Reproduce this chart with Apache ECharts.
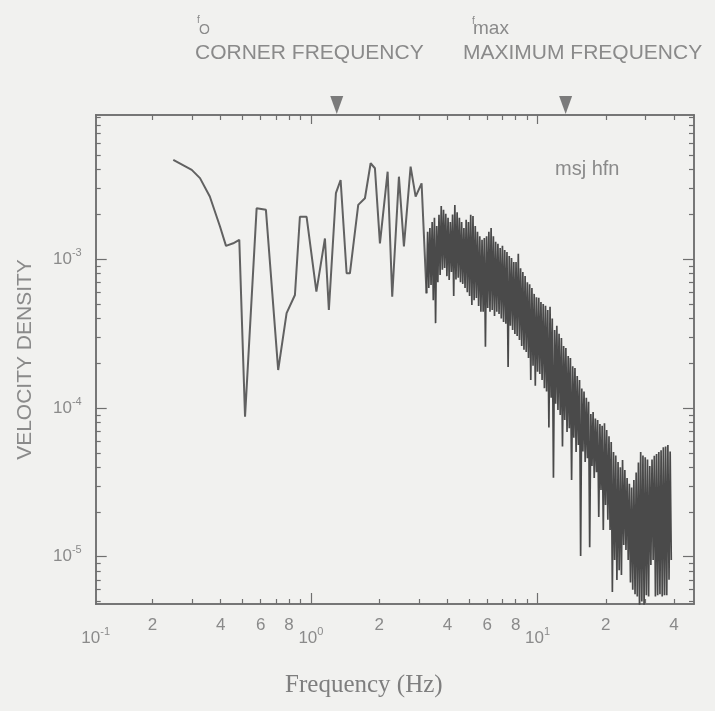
<!DOCTYPE html>
<html>
<head>
<meta charset="utf-8">
<title>Velocity density spectrum</title>
<script src="https://cdn.jsdelivr.net/npm/echarts@6.0.0/dist/echarts.min.js"></script>
<style>
  html, body { margin: 0; padding: 0; background: #f1f1ef; }
  #chart { width: 715px; height: 711px; }
</style>
</head>
<body>
<div id="chart"></div>
<script>
// spectrum: frequency (Hz) and velocity density
var freqHz = [
  // smooth low-frequency part
  0.247, 0.298, 0.324, 0.358, 0.397, 0.422, 0.454, 0.483, 0.512, 0.576,
  0.633, 0.717, 0.781, 0.850, 0.894, 0.957, 1.057, 1.153, 1.20, 1.289,
  1.352, 1.437, 1.486, 1.617, 1.731, 1.834, 1.916, 2.016, 2.180, 2.284,
  2.445, 2.572, 2.753, 2.897, 3.078,
  // dense noisy band
  3.236, 3.273, 3.311, 3.349, 3.388, 3.427, 3.467, 3.507, 3.548, 3.589,
  3.631, 3.673, 3.715, 3.758, 3.802, 3.846, 3.890, 3.935, 3.981, 4.027,
  4.074, 4.121, 4.169, 4.217, 4.266, 4.315, 4.365, 4.416, 4.467, 4.519,
  4.571, 4.624, 4.677, 4.731, 4.786, 4.841, 4.898, 4.955, 5.012, 5.070,
  5.129, 5.188, 5.248, 5.309, 5.370, 5.432, 5.495, 5.559, 5.623, 5.688,
  5.754, 5.821, 5.888, 5.956, 6.026, 6.096, 6.166, 6.237, 6.310, 6.383,
  6.457, 6.532, 6.607, 6.684, 6.761, 6.839, 6.918, 6.998, 7.079, 7.161,
  7.244, 7.328, 7.413, 7.499, 7.586, 7.674, 7.762, 7.852, 7.943, 8.035,
  8.128, 8.222, 8.318, 8.414, 8.511, 8.610, 8.710, 8.811, 8.913, 9.016,
  9.120, 9.226, 9.333, 9.441, 9.550, 9.661, 9.772, 9.885, 10.0, 10.12,
  10.23, 10.35, 10.47, 10.59, 10.72, 10.84, 10.96, 11.09, 11.22, 11.35,
  11.48, 11.61, 11.75, 11.89, 12.02, 12.16, 12.30, 12.44, 12.59, 12.74,
  12.88, 13.03, 13.18, 13.33, 13.49, 13.65, 13.80, 13.96, 14.13, 14.29,
  14.45, 14.62, 14.79, 14.96, 15.14, 15.32, 15.49, 15.67, 15.85, 16.03,
  16.22, 16.41, 16.60, 16.79, 16.98, 17.18, 17.38, 17.58, 17.78, 17.99,
  18.20, 18.41, 18.62, 18.84, 19.05, 19.27, 19.50, 19.73, 19.95, 20.18,
  20.42, 20.66, 20.89, 21.13, 21.38, 21.63, 21.88, 22.13, 22.39, 22.65,
  22.91, 23.18, 23.44, 23.71, 23.99, 24.27, 24.55, 24.83, 25.12, 25.41,
  25.70, 26.00, 26.30, 26.60, 26.92, 27.23, 27.54, 27.86, 28.18, 28.51,
  28.84, 29.17, 29.51, 29.85, 30.20, 30.55, 30.90, 31.26, 31.62, 31.99,
  32.36, 32.74, 33.11, 33.49, 33.88, 34.27, 34.67, 35.07, 35.48, 35.89,
  36.31, 36.73, 37.15, 37.58, 38.02, 38.46, 38.90
];
var velDensity = [
  4.65e-3, 3.99e-3, 3.51e-3, 2.64e-3, 1.66e-3, 1.23e-3, 1.28e-3, 1.35e-3, 8.74e-5, 2.20e-3,
  2.15e-3, 1.80e-4, 4.34e-4, 5.75e-4, 1.93e-3, 1.93e-3, 6.05e-4, 1.38e-3, 4.56e-4, 2.78e-3,
  3.41e-3, 8.05e-4, 8.05e-4, 2.32e-3, 2.57e-3, 4.42e-3, 4.09e-3, 1.28e-3, 3.88e-3, 5.60e-4,
  3.59e-3, 1.22e-3, 4.20e-3, 2.64e-3, 3.24e-3,
  5.9e-4, 1.53e-3, 6.4e-4, 1.62e-3, 6.72e-4, 1.78e-3, 5.3e-4, 1.9e-3, 3.72e-4, 1.67e-3,
  7.0e-4, 1.99e-3, 7.84e-4, 2.28e-3, 8.5e-4, 2.15e-3, 8.74e-4, 2.02e-3, 7.7e-4, 1.9e-3,
  7.26e-4, 1.78e-3, 8.2e-4, 2.0e-3, 5.66e-4, 2.32e-3, 7.3e-4, 2.07e-3, 7.5e-4, 1.90e-3,
  7.0e-4, 1.78e-3, 6.83e-4, 1.62e-3, 6.4e-4, 1.84e-3, 6.0e-4, 1.78e-3, 5.66e-4, 1.99e-3,
  4.93e-4, 1.95e-3, 5.3e-4, 1.67e-3, 5.49e-4, 1.53e-3, 4.85e-4, 1.43e-3, 4.43e-4, 1.35e-3,
  4.43e-4, 1.39e-3, 2.58e-4, 1.43e-3, 4.7e-4, 1.53e-3, 4.43e-4, 1.62e-3, 4.56e-4, 1.43e-3,
  4.16e-4, 1.31e-3, 4.43e-4, 1.27e-3, 4.29e-4, 1.19e-3, 4.0e-4, 1.23e-3, 3.79e-4, 1.155e-3,
  3.68e-4, 1.12e-3, 1.89e-4, 1.05e-3, 3.57e-4, 1.02e-3, 3.35e-4, 9.6e-4, 3.15e-4, 9.6e-4,
  3.05e-4, 1.09e-3, 2.87e-4, 8.7e-4, 2.61e-4, 8.2e-4, 2.46e-4, 7.7e-4, 2.38e-4, 7.0e-4,
  2.17e-4, 6.8e-4, 1.54e-4, 6.4e-4, 1.92e-4, 5.85e-4, 1.41e-4, 5.55e-4, 1.75e-4, 5.5e-4,
  1.69e-4, 5.16e-4, 1.54e-4, 5.0e-4, 1.36e-4, 4.87e-4, 1.29e-4, 4.56e-4, 7.4e-5, 4.8e-4,
  1.17e-4, 4.0e-4, 3.4e-5, 3.35e-4, 1.07e-4, 3.57e-4, 9.7e-5, 3.15e-4, 8.97e-5, 2.95e-4,
  5.5e-5, 2.61e-4, 8.3e-5, 2.53e-4, 6.9e-5, 2.24e-4, 7.3e-5, 2.17e-4, 3.28e-5, 1.91e-4,
  6.3e-5, 1.86e-4, 5.06e-5, 1.64e-4, 5.64e-5, 1.54e-4, 1.01e-5, 1.35e-4, 5.1e-5, 1.29e-4,
  4.34e-5, 1.17e-4, 4.6e-5, 1.10e-4, 1.16e-5, 9.1e-5, 4.07e-5, 9.4e-5, 3.38e-5, 8.5e-5,
  3.7e-5, 8.3e-5, 1.85e-5, 7.8e-5, 2.81e-5, 7.6e-5, 1.51e-5, 7.9e-5, 2.23e-5, 7.1e-5,
  1.77e-5, 6.46e-5, 1.51e-5, 5.9e-5, 5.8e-6, 5.06e-5, 9.5e-6, 4.8e-5, 6.97e-6, 4.33e-5,
  8.1e-6, 4.0e-5, 7.53e-6, 4.47e-5, 1.2e-5, 3.83e-5, 1.11e-5, 3.38e-5, 9.5e-6, 3.1e-5,
  6.7e-6, 2.92e-5, 6.0e-6, 3.28e-5, 5.6e-6, 3.69e-5, 5.4e-6, 4.3e-5, 4.3e-6, 5.06e-5,
  5.0e-6, 4.8e-5, 4.6e-6, 4.66e-5, 5.5e-6, 4.5e-5, 5.4e-6, 4.08e-5, 8.8e-6, 4.5e-5,
  9.5e-6, 4.78e-5, 5.4e-6, 4.9e-5, 5.5e-6, 5.06e-5, 5.6e-6, 5.2e-5, 5.4e-6, 5.44e-5,
  5.5e-6, 5.5e-5, 5.5e-6, 5.64e-5, 7.0e-6, 5.1e-5, 9.5e-6
];
// index where the smooth low-frequency part turns into the dense noisy band
var bandStart = 35;

// corner frequency f0 and maximum frequency fmax (Hz)
var markerFreq = [1.30, 13.3];

// axis ranges and ticks
var xRange = [0.1123, 49];
var yRange = [4.81e-6, 9.33e-3];
var xMajorTicks = [1, 10];
var xMinorTicks = [0.2, 0.3, 0.4, 0.5, 0.6, 0.7, 0.8, 0.9, 2, 3, 4, 5, 6, 7, 8, 9, 20, 30, 40];
var xDecadeLabels = [0.1123, 1, 10];
var xDigitLabels = [0.2, 0.4, 0.6, 0.8, 2, 4, 6, 8, 20, 40];
var yMajorTicks = [1e-5, 1e-4, 1e-3];
var yMinorTicks = [
  5e-6, 6e-6, 7e-6, 8e-6, 9e-6,
  2e-5, 3e-5, 4e-5, 5e-5, 6e-5, 7e-5, 8e-5, 9e-5,
  2e-4, 3e-4, 4e-4, 5e-4, 6e-4, 7e-4, 8e-4, 9e-4,
  2e-3, 3e-3, 4e-3, 5e-3, 6e-3, 7e-3, 8e-3, 9e-3
];

var textGray = '#8a8a8a';
var axisGray = '#6f6f6f';
var sans = "'Liberation Sans', Arial, sans-serif";

var richPow = {
  b: { fontSize: 17, lineHeight: 24, color: textGray, fontFamily: sans },
  s: { fontSize: 11, lineHeight: 11, verticalAlign: 'top', color: textGray, fontFamily: sans }
};

function decadeLabel(v) {
  return '{b|10}{s|' + Math.round(Math.log10(v)) + '}';
}
function digitLabel(v) {
  return String(Math.round(v / Math.pow(10, Math.floor(Math.log10(v) + 1e-9))));
}

function axisDef(position, range, ticks, len, labels, fmt, margin) {
  return {
    type: 'log',
    position: position,
    min: range[0],
    max: range[1],
    axisLine: { show: true, lineStyle: { color: axisGray, width: 1.5 } },
    axisTick: {
      show: true, inside: true, length: len, customValues: ticks,
      lineStyle: { color: axisGray, width: 1.2 }
    },
    axisLabel: labels ? {
      show: true, customValues: labels, formatter: fmt, margin: margin,
      color: textGray, fontSize: 17, fontFamily: sans, rich: richPow
    } : { show: false },
    splitLine: { show: false },
    minorTick: { show: false }
  };
}

var xBottom = axisDef('bottom', xRange, xMajorTicks, 11, xDecadeLabels, decadeLabel, 22);
xBottom.name = 'Frequency (Hz)';
xBottom.nameLocation = 'middle';
xBottom.nameGap = 69;
xBottom.nameTextStyle = {
  fontFamily: "'Liberation Serif', 'Times New Roman', serif",
  fontSize: 25, color: '#7e7e7e', padding: [0, 62, 0, 0]
};

var yLeft = axisDef('left', yRange, yMajorTicks, 11, yMajorTicks, decadeLabel, 14);
yLeft.name = 'VELOCITY DENSITY';
yLeft.nameLocation = 'middle';
yLeft.nameGap = 60;
yLeft.nameTextStyle = { fontFamily: sans, fontSize: 21, color: textGray };

var points = freqHz.map(function (f, i) { return [f, velDensity[i]]; });

var option = {
  backgroundColor: '#f1f1ef',
  animation: false,
  grid: { left: 95.7, right: 21, top: 115, bottom: 107, containLabel: false },
  xAxis: [
    xBottom,
    axisDef('bottom', xRange, xMinorTicks, 5, xDigitLabels, digitLabel, 13),
    axisDef('top', xRange, xMajorTicks, 9, null),
    axisDef('top', xRange, xMinorTicks, 5, null)
  ],
  yAxis: [
    yLeft,
    axisDef('left', yRange, yMinorTicks, 5, null),
    axisDef('right', yRange, yMajorTicks, 11, null),
    axisDef('right', yRange, yMinorTicks, 5, null)
  ],
  graphic: [
    { type: 'text', x: 197, y: 20, style: { text: 'f', fontSize: 10, fontFamily: sans, fill: textGray, verticalAlign: 'middle' } },
    { type: 'text', x: 199, y: 30, style: { text: 'O', fontSize: 14, fontFamily: sans, fill: textGray, verticalAlign: 'middle' } },
    { type: 'text', x: 195, y: 53.5, style: { text: 'CORNER FREQUENCY', fontSize: 21, fontFamily: sans, fill: textGray, verticalAlign: 'middle' } },
    { type: 'text', x: 472, y: 21, style: { text: 'f', fontSize: 10, fontFamily: sans, fill: textGray, verticalAlign: 'middle' } },
    { type: 'text', x: 473, y: 29, style: { text: 'max', fontSize: 19, fontFamily: sans, fill: textGray, verticalAlign: 'middle' } },
    { type: 'text', x: 463, y: 53.5, style: { text: 'MAXIMUM FREQUENCY', fontSize: 21, fontFamily: sans, fill: textGray, verticalAlign: 'middle' } },
    { type: 'text', x: 555, y: 169, style: { text: 'msj hfn', fontSize: 20, fontFamily: sans, fill: textGray, verticalAlign: 'middle' } }
  ],
  series: [
    {
      type: 'line',
      xAxisIndex: 0,
      yAxisIndex: 0,
      showSymbol: false,
      clip: true,
      lineStyle: { color: '#616161', width: 2 },
      data: points.slice(0, bandStart + 1)
    },
    {
      type: 'line',
      xAxisIndex: 0,
      yAxisIndex: 0,
      showSymbol: false,
      clip: true,
      lineStyle: { color: '#4a4a4a', width: 1.7, join: 'bevel' },
      data: points.slice(bandStart)
    },
    {
      type: 'scatter',
      xAxisIndex: 0,
      yAxisIndex: 0,
      clip: false,
      symbol: 'triangle',
      symbolRotate: 180,
      symbolSize: [13, 18],
      symbolOffset: [0, -10],
      itemStyle: { color: '#5e5e5e' },
      data: markerFreq.map(function (f) { return [f, yRange[1]]; })
    }
  ]
};

var chart = echarts.init(document.getElementById('chart'));
chart.setOption(option);
</script>
</body>
</html>
